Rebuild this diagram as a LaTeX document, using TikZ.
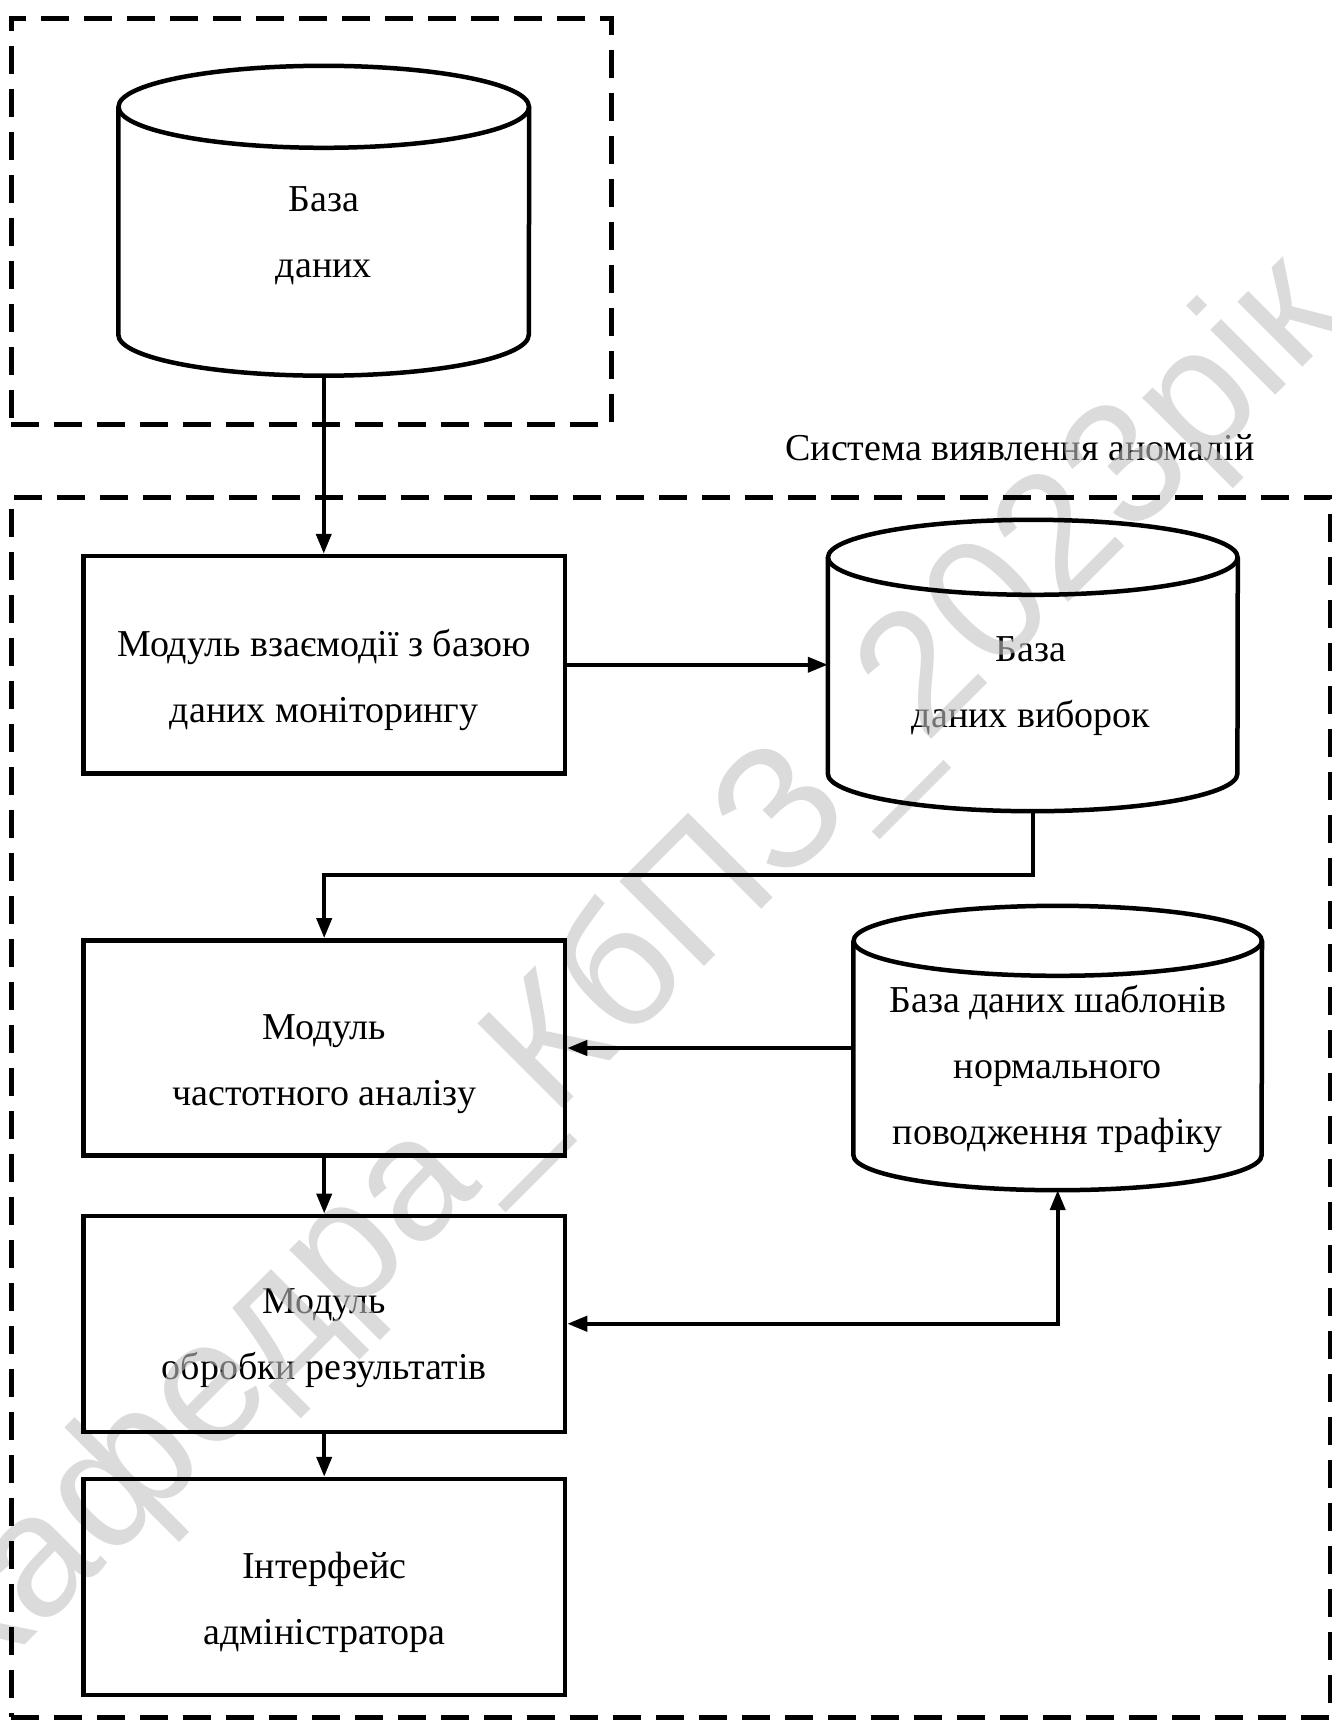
\documentclass[tikz,border=0pt]{standalone}
\usepackage{fontspec}
\setmainfont{Liberation Serif}
\newfontfamily\wmfont{Liberation Sans}
\usetikzlibrary{arrows.meta}
\newcommand\cylout[3]{%
  \draw[shapeline] ([yshift=-#3pt]#1.north west) -- ([yshift=#3pt]#1.south west)
    arc[start angle=180,end angle=360,x radius=#2pt,y radius=#3pt] -- ([yshift=-#3pt]#1.north east);
  \draw[shapeline] ([yshift=-#3pt]#1.north) ellipse[x radius=#2pt,y radius=#3pt];}
\begin{document}
\begin{tikzpicture}[x=1pt,y=-1pt,
  txt/.style={align=center,font=\fontsize{38}{66}\selectfont,inner sep=0pt},
  boxnode/.style={draw,line width=4.5pt,minimum width=481.6pt,inner sep=0pt},
  cylnode/.style={inner sep=0pt},
  shapeline/.style={line width=4.5pt},
  grp/.style={draw,line width=5pt,dash pattern=on 28pt off 15pt,inner sep=0pt},
  conn/.style={line width=4pt,-{Triangle[length=20pt,width=15pt]}},
  conn2/.style={line width=4pt,{Triangle[length=20pt,width=15pt]}-{Triangle[length=20pt,width=15pt]}}]
\useasboundingbox (0,0) rectangle (1332,1721);
% texts
\node[txt] (c1t) at (323.75,236) {База\\даних};
\node[txt] (lbl) at (1020,447.7) {Система виявлення аномалій};
\node[txt] (b1t) at (324.2,680) {Модуль взаємодії з базою\\даних моніторингу};
\node[txt] (c2t) at (1031,686) {База\\даних виборок};
\node[txt] (b2t) at (324.2,1064) {Модуль\\частотного аналізу};
\node[txt] (c3t) at (1057.7,1069) {База даних шаблонів\\нормального\\поводження трафіку};
\node[txt] (b3t) at (324.2,1338.6) {Модуль\\обробки результатів};
\node[txt] (b4t) at (324.2,1602) {Інтерфейс\\адміністратора};
% watermark
\node[rotate=45,text=black!24,text opacity=0.59,inner sep=0pt,
  font=\wmfont\fontsize{174}{174}\selectfont] (wm) at (626,980) {Кафедра\_КбПЗ\_2023рік};
% group frames
\node[grp,minimum width=600pt,minimum height=406pt] (g1) at (311,221) {};
\node[grp,minimum width=1319pt,minimum height=1220pt] (g2) at (670.5,1107) {};
% cylinders
\node[cylnode,minimum width=410.5pt,minimum height=309.5pt] (c1) at (323.75,220.75) {};
\node[cylnode,minimum width=409.6pt,minimum height=291pt] (c2) at (1032.8,665.5) {};
\node[cylnode,minimum width=408.2pt,minimum height=284pt] (c3) at (1057.7,1048) {};
\cylout{c1}{205.25}{41}
\cylout{c2}{204.8}{37.5}
\cylout{c3}{204.1}{35}
% boxes
\node[boxnode,minimum height=217.5pt] (b1) at (324.2,664.75) {};
\node[boxnode,minimum height=215pt] (b2) at (324.2,1047.85) {};
\node[boxnode,minimum height=216pt] (b3) at (324.2,1323.75) {};
\node[boxnode,minimum height=216pt] (b4) at (324.2,1587) {};
% connectors
\draw[conn] (c1.south) -- (c1.south |- b1.north);
\draw[conn] (b1.east) -- (b1.east -| c2.west);
\draw[conn] (c2.south) -- ++(0,63.5) -| (b2.north);
\draw[conn] (c3.west) -- (c3.west -| b2.east);
\draw[conn] (b2.south) -- (b3.north);
\draw[conn2] (b3.east) -| (c3.south);
\draw[conn] (b3.south) -- (b4.north);
\end{tikzpicture}
\end{document}
